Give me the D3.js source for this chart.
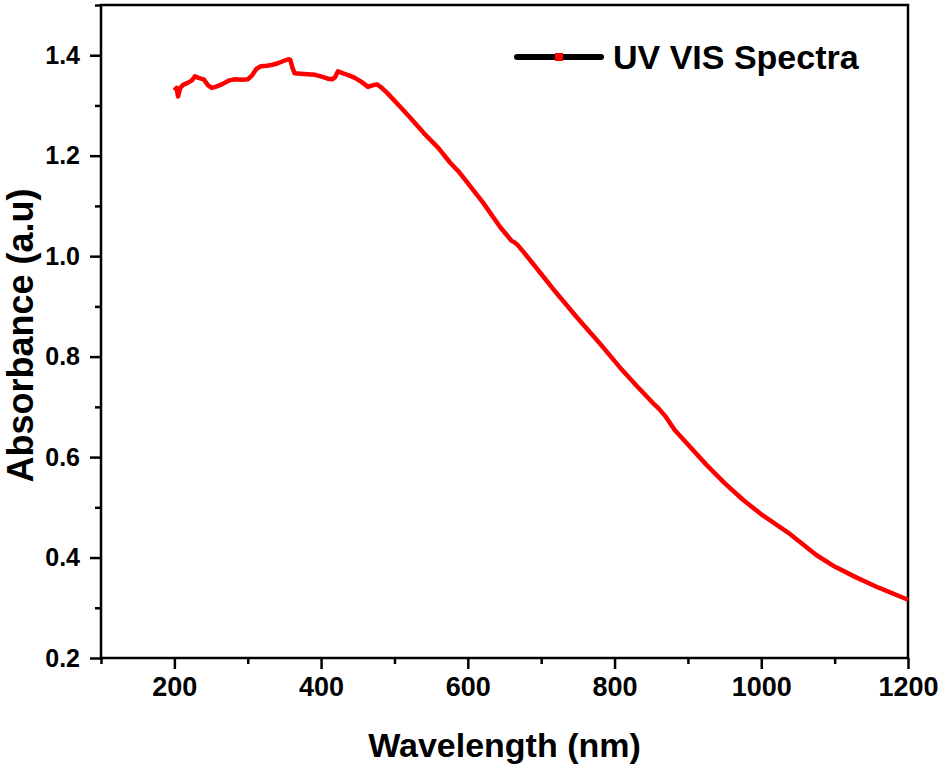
<!DOCTYPE html>
<html>
<head>
<meta charset="utf-8">
<script src="https://cdn.jsdelivr.net/npm/d3@7"></script>
<style>
    body { margin: 0; background: #fff; }
    text { font-family: "Liberation Sans", Arial, sans-serif; font-weight: bold; }
</style>
</head>
<body>
<div id="chart"></div>
<script>
// values
let wavelength = [200, 203, 205, 208, 212, 218, 224, 228, 233, 240, 246, 251, 258, 266, 275, 283, 292, 300,
    306, 312, 318, 326, 334, 341, 348, 355, 358, 361, 364, 372, 382, 392, 402, 410, 415, 419, 423, 430, 438,
    446, 455, 464, 470, 476, 482, 490, 503, 520, 540, 560, 576, 589, 605, 621, 644, 660, 664, 668, 675, 696,
    720, 750, 780, 807, 830, 852, 860, 870, 882, 900, 925, 950, 975, 1000, 1039, 1075, 1100, 1130, 1160, 1200];
let absorbance = [1.330, 1.335, 1.318, 1.335, 1.341, 1.345, 1.350, 1.358, 1.355, 1.352, 1.340, 1.335, 1.338,
    1.343, 1.350, 1.352, 1.351, 1.352, 1.360, 1.373, 1.378, 1.379, 1.381, 1.384, 1.388, 1.392, 1.391, 1.375,
    1.364, 1.363, 1.362, 1.361, 1.357, 1.353, 1.352, 1.356, 1.368, 1.364, 1.360, 1.355, 1.347, 1.337, 1.340,
    1.342, 1.336, 1.325, 1.305, 1.278, 1.245, 1.215, 1.186, 1.166, 1.136, 1.106, 1.058, 1.030, 1.027, 1.022,
    1.010, 0.972, 0.928, 0.876, 0.826, 0.779, 0.742, 0.708, 0.697, 0.680, 0.654, 0.625, 0.585, 0.548, 0.515,
    0.486, 0.447, 0.405, 0.382, 0.360, 0.340, 0.316];
let xTicks = [200, 400, 600, 800, 1000, 1200];
let xMinor = [100, 300, 500, 700, 900, 1100];
let yTicks = [0.2, 0.4, 0.6, 0.8, 1.0, 1.2, 1.4];
let yMinor = [0.3, 0.5, 0.7, 0.9, 1.1, 1.3, 1.5];
let seriesName = "UV VIS Spectra";

let data = wavelength.map((d, i) => ({x: d, y: absorbance[i]}));

let margin = {top: 5, right: 36, bottom: 106, left: 101};
let width = 944 - margin.left - margin.right;
let height = 764 - margin.top - margin.bottom;

let svg = d3.select("#chart").append("svg")
    .attr("width", 944)
    .attr("height", 764)
    .append("g")
    .attr("transform", "translate(" + margin.left + "," + margin.top + ")");

let x = d3.scaleLinear().domain([100, 1200]).range([0, width]);
let y = d3.scaleLinear().domain([0.2, 1.5]).range([height, 0]);

// frame
svg.append("rect")
    .attr("width", width)
    .attr("height", height)
    .attr("fill", "none")
    .attr("stroke", "#000")
    .attr("stroke-width", 2.5);

// major ticks with labels
let xAxis = svg.append("g")
    .attr("transform", "translate(0," + height + ")")
    .call(d3.axisBottom(x).tickValues(xTicks).tickSize(11).tickPadding(8).tickFormat(d3.format("d")));
let yAxis = svg.append("g")
    .call(d3.axisLeft(y).tickValues(yTicks).tickSize(11).tickPadding(10).tickFormat(d3.format(".1f")));

// minor ticks
svg.append("g")
    .attr("transform", "translate(0," + height + ")")
    .call(d3.axisBottom(x).tickValues(xMinor).tickSize(6).tickFormat(""));
svg.append("g")
    .call(d3.axisLeft(y).tickValues(yMinor).tickSize(6).tickFormat(""));

svg.selectAll(".domain").remove();
svg.selectAll(".tick line").attr("stroke", "#000").attr("stroke-width", 2.5);
svg.selectAll(".tick text").attr("fill", "#000");
xAxis.selectAll(".tick text").style("font-size", "27px");
yAxis.selectAll(".tick text").style("font-size", "25px");

// spectrum
let line = d3.line().x(d => x(d.x)).y(d => y(d.y));
svg.append("path")
    .datum(data)
    .attr("fill", "none")
    .attr("stroke", "#ff0000")
    .attr("stroke-width", 4.5)
    .attr("stroke-linejoin", "round")
    .attr("d", line);

// axis titles
svg.append("text")
    .attr("x", width / 2)
    .attr("y", height + 99)
    .attr("text-anchor", "middle")
    .style("font-size", "34px")
    .text("Wavelength (nm)");

svg.append("text")
    .attr("transform", "translate(" + (-68) + "," + (height / 2 + 4) + ") rotate(-90)")
    .attr("text-anchor", "middle")
    .style("font-size", "36px")
    .text("Absorbance (a.u)");

// legend
let legend = svg.append("g").attr("transform", "translate(" + (517 - margin.left) + "," + (57 - margin.top) + ")");
legend.append("line")
    .attr("x1", 0).attr("x2", 84)
    .attr("stroke", "#000")
    .attr("stroke-width", 6)
    .attr("stroke-linecap", "round");
legend.append("rect")
    .attr("x", 38).attr("y", -4)
    .attr("width", 8).attr("height", 8)
    .attr("fill", "#ff0000");
legend.append("text")
    .attr("x", 96)
    .attr("y", 12)
    .style("font-size", "34px")
    .text(seriesName);
</script>
</body>
</html>
